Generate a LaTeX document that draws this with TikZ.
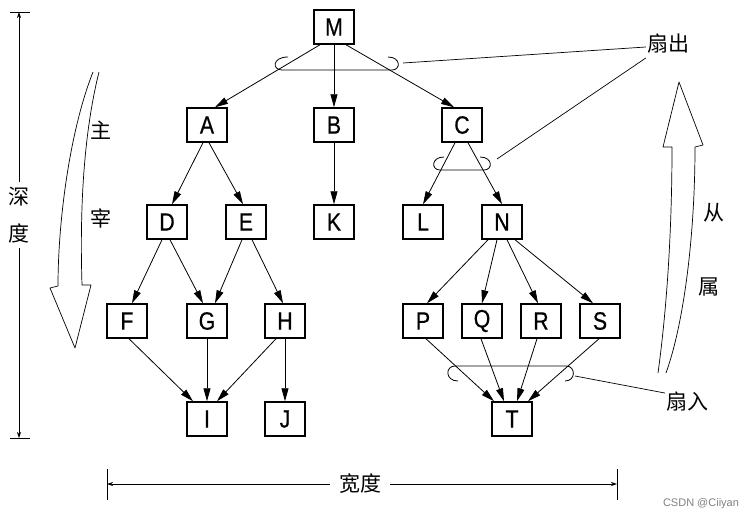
\documentclass[tikz,border=0pt]{standalone}
\usepackage{fontspec}
\setmainfont{Liberation Sans}
\newfontfamily\boxfont[FakeStretch=0.85,FakeBold=0.6]{Liberation Sans}
\newfontfamily\cjk{Noto Sans CJK SC}
\usetikzlibrary{arrows.meta}

\tikzset{
  box/.style={draw, line width=1.5pt, minimum width=40pt, minimum height=34pt,
    inner sep=0pt, font=\boxfont\fontsize{25}{25}\selectfont},
  edge/.style={line width=0.8pt, -{Triangle[length=13pt,width=7pt]}},
  hook/.style={line width=0.8pt},
  word/.style={font=\cjk\fontsize{21}{21}\selectfont, inner sep=1pt},
  hollow/.style={line width=0.7pt, line join=round},
  dim/.style={line width=0.7pt},
  dimarrow/.style={dim, -{Stealth[length=6pt,width=4pt]}}
}

\begin{document}
\begin{tikzpicture}[x=1pt,y=-1pt]
\useasboundingbox (0,0) rectangle (754,520);

% modules
\node[box] (M) at (334,27) {M};
\node[box] (A) at (207,125) {A};
\node[box] (B) at (334,125) {B};
\node[box] (C) at (462,125) {C};
\node[box] (D) at (167,222) {D};
\node[box] (E) at (246,222) {E};
\node[box] (K) at (334,222) {K};
\node[box] (L) at (423,222) {L};
\node[box] (N) at (502,222) {N};
\node[box] (F) at (127,321) {F};
\node[box] (G) at (207,321) {G};
\node[box] (H) at (285,321) {H};
\node[box] (P) at (423,321) {P};
\node[box] (Q) at (482,321) {Q};
\node[box] (R) at (541,321) {R};
\node[box] (S) at (600,321) {S};
\node[box] (I) at (207,419) {I};
\node[box] (J) at (285,419) {J};
\node[box] (T) at (512,419) {T};

% calls
\draw[edge] ([xshift=-14pt]M.south) -- ([xshift=8pt]A.north);
\draw[edge] (M.south) -- (B.north);
\draw[edge] ([xshift=12pt]M.south) -- ([xshift=-8pt]C.north);
\draw[edge] ([xshift=-4pt]A.south) -- ([xshift=5pt]D.north);
\draw[edge] ([xshift=2pt]A.south) -- ([xshift=-3pt]E.north);
\draw[edge] (B.south) -- (K.north);
\draw[edge] ([xshift=-7pt]C.south) -- (L.north);
\draw[edge] ([xshift=6pt]C.south) -- (N.north);
\draw[edge] ([xshift=-5pt]D.south) -- ([xshift=5pt]F.north);
\draw[edge] ([xshift=3pt]D.south) -- ([xshift=-4pt]G.north);
\draw[edge] ([xshift=-4pt]E.south) -- ([xshift=8pt]G.north);
\draw[edge] ([xshift=6pt]E.south) -- ([xshift=-2pt]H.north);
\draw[edge] ([xshift=-14pt]N.south) -- ([xshift=4pt]P.north);
\draw[edge] ([xshift=-5pt]N.south) -- (Q.north);
\draw[edge] ([xshift=5pt]N.south) -- ([xshift=-3pt]R.north);
\draw[edge] ([xshift=13pt]N.south) -- ([xshift=-7pt]S.north);
\draw[edge] ([xshift=2pt]F.south) -- ([xshift=-14pt]I.north);
\draw[edge] (G.south) -- (I.north);
\draw[edge] ([xshift=-9pt]H.south) -- ([xshift=10pt]I.north);
\draw[edge] (H.south) -- (J.north);
\draw[edge] ([xshift=3pt]P.south) -- ([xshift=-18pt]T.north);
\draw[edge] ([xshift=-1pt]Q.south) -- ([xshift=-8pt]T.north);
\draw[edge] ([xshift=-4pt]R.south) -- ([xshift=5pt]T.north);
\draw[edge] ([xshift=-1pt]S.south) -- ([xshift=16pt]T.north);

% fan hooks
\draw[hook] (288,57) .. controls (272,57) and (272,70) .. (282,70) -- (392,70)
  .. controls (401,70) and (401,57) .. (388,57);
\draw[hook] (444,157) .. controls (431,157) and (431,170) .. (440,170) -- (484,170)
  .. controls (493,170) and (493,157) .. (480,157);
\draw[hook] (458,381) .. controls (445,381) and (445,366) .. (455,366) -- (566,366)
  .. controls (576,366) and (576,381) .. (565,381);
\coordinate (fo1) at (403,63);
\coordinate (fo2) at (497,159);
\coordinate (fi) at (575,376);

% labels
\node[word] (fanout) at (668,44) {扇出};
\node[word] (fanin) at (687,402) {扇入};
\draw[dim] (fo1) -- ([yshift=-3pt]fanout.west);
\draw[dim] ([yshift=-14pt]fanout.west) -- (fo2);
\draw[dim] (fi) -- ([yshift=9pt]fanin.west);

\node[word] (zhu) at (101,130) {主};
\node[word] (zai) at (101,218) {宰};
\node[word] (cong) at (714,213) {从};
\node[word] (shu) at (709,287) {属};

% hollow arrows
\draw[hollow] (99,72) .. controls (82,140) and (80,220) .. (82,285) -- (91,285)
  -- (75,348) -- (50,288) -- (58,286) .. controls (58,220) and (70,130) .. (93,72);
\draw[hollow] (658,373) .. controls (668,300) and (672,220) .. (672,147) -- (663,147)
  -- (679,82) -- (703,145) -- (695,147) .. controls (695,230) and (685,320) .. (666,373);

% depth
\coordinate (dtop) at (19,12);
\coordinate (dbot) at (19,438);
\draw[dim] (10,12) -- (30,12);
\draw[dim] (10,438) -- (30,438);
\node[word] (deep) at (19,197) {深};
\node[word] (deg) at (19,233) {度};
\draw[dimarrow] ([yshift=4pt]deep.north) -- (dtop);
\draw[dimarrow] ([yshift=-4pt]deg.south) -- (dbot);

% width
\coordinate (wl) at (107,484);
\coordinate (wr) at (617,484);
\draw[dim] (107,469) -- (107,500);
\draw[dim] (617,469) -- (617,500);
\node[word] (wide) at (360,484) {宽度};
\draw[dimarrow] ([xshift=-8pt]wide.west) -- (wl);
\draw[dimarrow] ([xshift=8pt]wide.east) -- (wr);

\node[font=\fontsize{11}{11}\selectfont, text=gray] (mark) at (701,504) {CSDN @Ciiyan};
\end{tikzpicture}
\end{document}
